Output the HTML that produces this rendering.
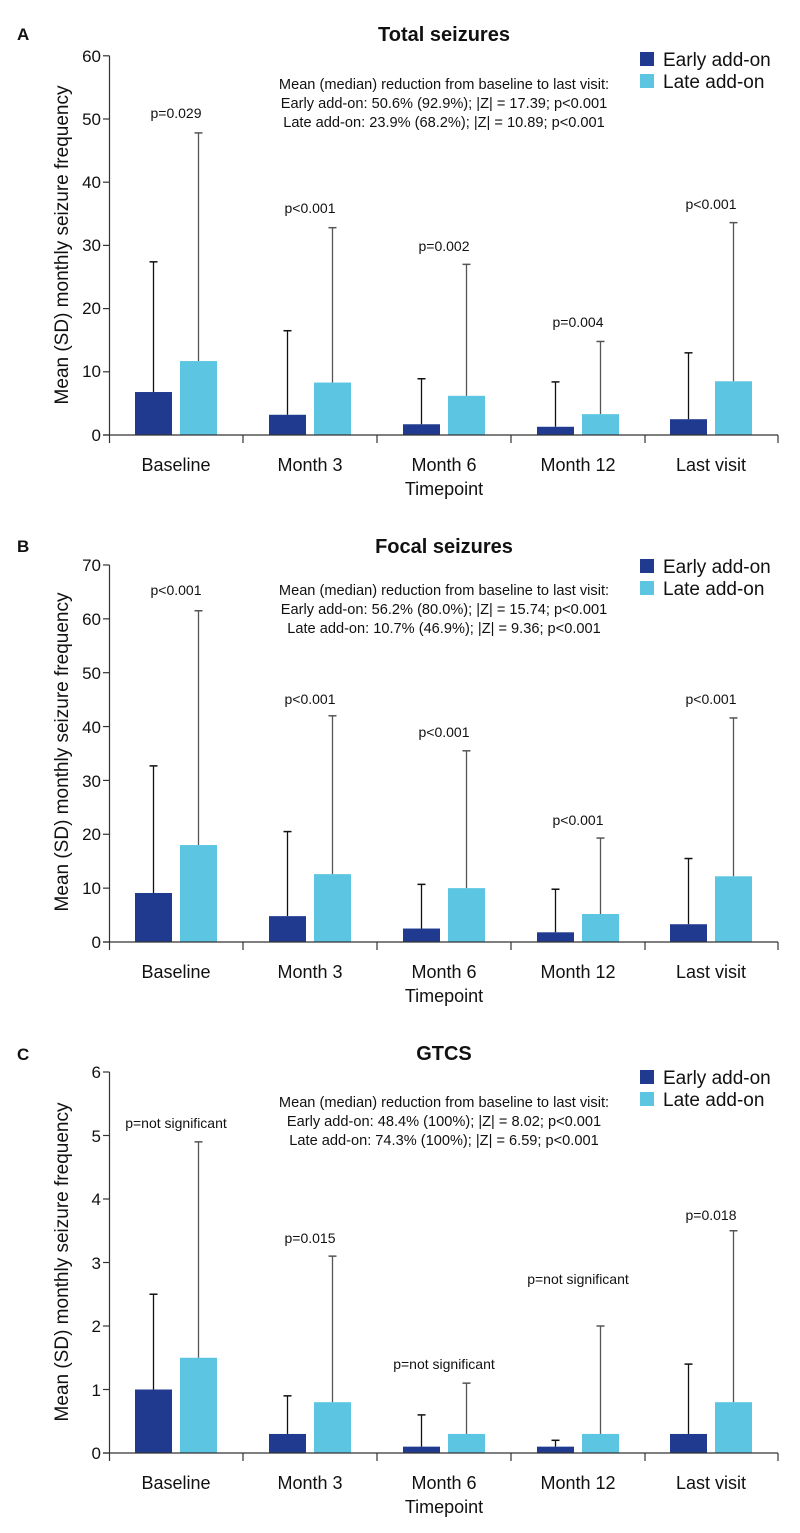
<!DOCTYPE html>
<html><head><meta charset="utf-8"><style>
html,body{margin:0;padding:0;background:#fff}
svg{display:block;font-family:"Liberation Sans",Arial,sans-serif}
</style></head><body>
<svg id="s" width="800" height="1533" viewBox="0 0 800 1533" xmlns="http://www.w3.org/2000/svg">
<g fill="#111">
<!-- Panel A -->
<text x="17" y="40" font-size="17" font-weight="bold">A</text>
<text x="444" y="41" font-size="20" font-weight="bold" text-anchor="middle">Total seizures</text>
<g font-size="17" text-anchor="end">
<text x="101" y="62">60</text><text x="101" y="125">50</text><text x="101" y="188">40</text><text x="101" y="251">30</text><text x="101" y="314">20</text><text x="101" y="377">10</text><text x="101" y="441">0</text>
</g>
<text transform="translate(68,245) rotate(-90)" font-size="19" text-anchor="middle">Mean (SD) monthly seizure frequency</text>
<g font-size="14.6" text-anchor="middle"><text x="444" y="89">Mean (median) reduction from baseline to last visit:</text><text x="444" y="108">Early add-on: 50.6% (92.9%); |Z| = 17.39; p&lt;0.001</text><text x="444" y="127">Late add-on: 23.9% (68.2%); |Z| = 10.89; p&lt;0.001</text></g>
<g font-size="19"><text x="663" y="66">Early add-on</text><text x="663" y="88">Late add-on</text></g>
<g font-size="14" text-anchor="middle"><text x="176" y="118">p=0.029</text><text x="310" y="213">p&lt;0.001</text><text x="444" y="251">p=0.002</text><text x="578" y="327">p=0.004</text><text x="711" y="209">p&lt;0.001</text></g>
<g font-size="18" text-anchor="middle"><text x="176" y="471">Baseline</text><text x="310" y="471">Month 3</text><text x="444" y="471">Month 6</text><text x="578" y="471">Month 12</text><text x="711" y="471">Last visit</text><text x="444" y="495">Timepoint</text></g>
<!-- Panel B -->
<text x="17" y="552" font-size="17" font-weight="bold">B</text>
<text x="444" y="553" font-size="20" font-weight="bold" text-anchor="middle">Focal seizures</text>
<g font-size="17" text-anchor="end">
<text x="101" y="571">70</text><text x="101" y="625">60</text><text x="101" y="679">50</text><text x="101" y="733">40</text><text x="101" y="787">30</text><text x="101" y="840">20</text><text x="101" y="894">10</text><text x="101" y="948">0</text>
</g>
<text transform="translate(68,752) rotate(-90)" font-size="19" text-anchor="middle">Mean (SD) monthly seizure frequency</text>
<g font-size="14.6" text-anchor="middle"><text x="444" y="595">Mean (median) reduction from baseline to last visit:</text><text x="444" y="614">Early add-on: 56.2% (80.0%); |Z| = 15.74; p&lt;0.001</text><text x="444" y="633">Late add-on: 10.7% (46.9%); |Z| = 9.36; p&lt;0.001</text></g>
<g font-size="19"><text x="663" y="573">Early add-on</text><text x="663" y="595">Late add-on</text></g>
<g font-size="14" text-anchor="middle"><text x="176" y="595">p&lt;0.001</text><text x="310" y="704">p&lt;0.001</text><text x="444" y="737">p&lt;0.001</text><text x="578" y="825">p&lt;0.001</text><text x="711" y="704">p&lt;0.001</text></g>
<g font-size="18" text-anchor="middle"><text x="176" y="978">Baseline</text><text x="310" y="978">Month 3</text><text x="444" y="978">Month 6</text><text x="578" y="978">Month 12</text><text x="711" y="978">Last visit</text><text x="444" y="1002">Timepoint</text></g>
<!-- Panel C -->
<text x="17" y="1060" font-size="17" font-weight="bold">C</text>
<text x="444" y="1060" font-size="20" font-weight="bold" text-anchor="middle">GTCS</text>
<g font-size="17" text-anchor="end">
<text x="101" y="1078">6</text><text x="101" y="1142">5</text><text x="101" y="1205">4</text><text x="101" y="1269">3</text><text x="101" y="1332">2</text><text x="101" y="1396">1</text><text x="101" y="1459">0</text>
</g>
<text transform="translate(68,1262) rotate(-90)" font-size="19" text-anchor="middle">Mean (SD) monthly seizure frequency</text>
<g font-size="14.6" text-anchor="middle"><text x="444" y="1107">Mean (median) reduction from baseline to last visit:</text><text x="444" y="1126">Early add-on: 48.4% (100%); |Z| = 8.02; p&lt;0.001</text><text x="444" y="1145">Late add-on: 74.3% (100%); |Z| = 6.59; p&lt;0.001</text></g>
<g font-size="19"><text x="663" y="1084">Early add-on</text><text x="663" y="1106">Late add-on</text></g>
<g font-size="14" text-anchor="middle"><text x="176" y="1128">p=not significant</text><text x="310" y="1243">p=0.015</text><text x="444" y="1369">p=not significant</text><text x="578" y="1284">p=not significant</text><text x="711" y="1220">p=0.018</text></g>
<g font-size="18" text-anchor="middle"><text x="176" y="1489">Baseline</text><text x="310" y="1489">Month 3</text><text x="444" y="1489">Month 6</text><text x="578" y="1489">Month 12</text><text x="711" y="1489">Last visit</text><text x="444" y="1513">Timepoint</text></g>
</g>
<g id="shapes"></g>
</svg>
<script>
var g=document.getElementById('shapes'),ns='http://www.w3.org/2000/svg';
function el(t,a){var e=document.createElementNS(ns,t);for(var k in a)e.setAttribute(k,a[k]);g.appendChild(e);}
var panels=[
{y0:435,sc:6.32,ticks:[0,10,20,30,40,50,60],leg:52,d:[[6.8,27.4,11.7,47.8],[3.2,16.5,8.3,32.8],[1.7,8.9,6.2,27],[1.3,8.4,3.3,14.8],[2.5,13,8.5,33.6]]},
{y0:942,sc:5.386,ticks:[0,10,20,30,40,50,60,70],leg:559,d:[[9.1,32.7,18,61.5],[4.8,20.5,12.6,42],[2.5,10.7,10,35.5],[1.8,9.8,5.2,19.3],[3.3,15.5,12.2,41.6]]},
{y0:1453,sc:63.5,ticks:[0,1,2,3,4,5,6],leg:1070,d:[[1,2.5,1.5,4.9],[0.3,0.9,0.8,3.1],[0.1,0.6,0.3,1.1],[0.1,0.2,0.3,2.0],[0.3,1.4,0.8,3.5]]}];
var cs=[176,310,444,578,711],dark='#1f3a8e',light='#5bc5e2';
panels.forEach(function(p){
 var y0=p.y0,top=y0-p.ticks[p.ticks.length-1]*p.sc;
 p.d.forEach(function(v,i){var c=cs[i];
  [[c-22.5,v[0],v[1],dark,'#111'],[c+22.5,v[2],v[3],light,'#555']].forEach(function(b){
   var yb=y0-b[1]*p.sc, ys=y0-b[2]*p.sc;
   el('line',{x1:b[0],x2:b[0],y1:yb,y2:ys,stroke:b[4],'stroke-width':1.3});
   el('line',{x1:b[0]-4,x2:b[0]+4,y1:ys,y2:ys,stroke:b[4],'stroke-width':1.5});
   el('rect',{x:b[0]-18.5,y:yb,width:37,height:y0-yb,fill:b[3]});
  });
 });
 el('line',{x1:109.5,x2:109.5,y1:top,y2:y0+8,stroke:'#333','stroke-width':1.2});
 el('line',{x1:103,x2:778,y1:y0,y2:y0,stroke:'#333','stroke-width':1.2});
 p.ticks.forEach(function(t){var y=y0-t*p.sc;el('line',{x1:103,x2:109.5,y1:y,y2:y,stroke:'#333','stroke-width':1.2});});
 [243,377,511,645,778].forEach(function(x){el('line',{x1:x,x2:x,y1:y0,y2:y0+8,stroke:'#333','stroke-width':1.2});});
 el('rect',{x:640,y:p.leg,width:14,height:14,fill:dark});
 el('rect',{x:640,y:p.leg+22,width:14,height:14,fill:light});
});
</script>
</body></html>
